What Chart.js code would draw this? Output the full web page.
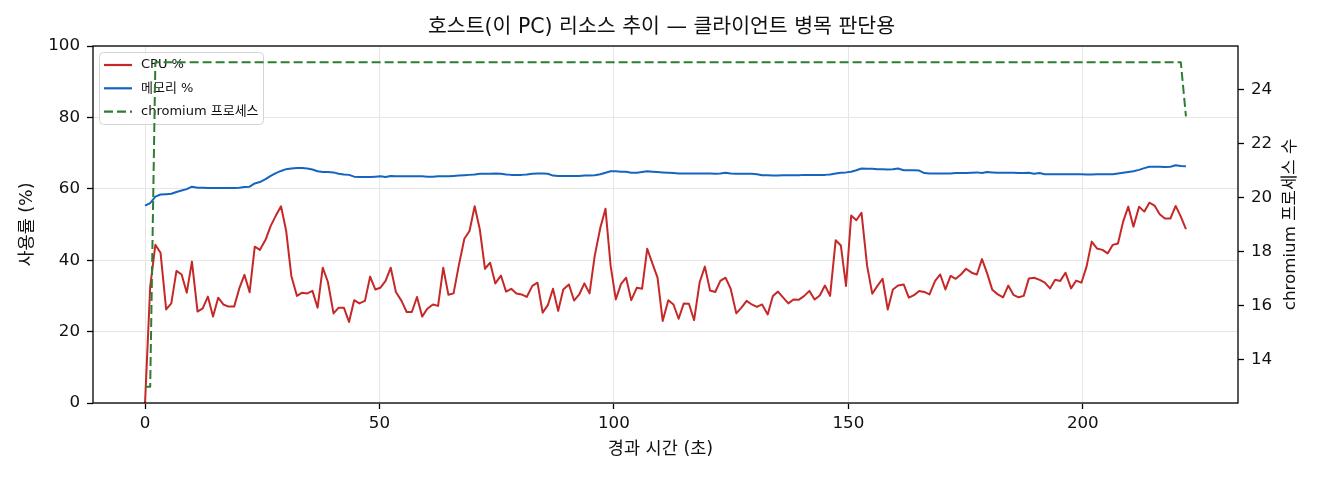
<!DOCTYPE html>
<html lang="ko">
<head>
<meta charset="utf-8">
<title>호스트 리소스 추이</title>
<script src="https://cdn.jsdelivr.net/npm/chart.js@4.4.1/dist/chart.umd.min.js"></script>
<style>
  html, body { margin: 0; padding: 0; background: #fff; }
  canvas { display: block; }
</style>
</head>
<body>
<canvas id="resourceChart" width="1320" height="480"></canvas>
<script>
// --- Data (~1.1 s sampling) ---
const elapsedSec = [
  0.0, 1.1, 2.2, 3.3, 4.5, 5.6, 6.7, 7.8, 8.9, 10.0,
  11.2, 12.3, 13.4, 14.5, 15.6, 16.7, 17.8, 19.0, 20.1, 21.2,
  22.3, 23.4, 24.5, 25.7, 26.8, 27.9, 29.0, 30.1, 31.2, 32.4,
  33.5, 34.6, 35.7, 36.8, 37.9, 39.0, 40.2, 41.3, 42.4, 43.5,
  44.6, 45.7, 46.9, 48.0, 49.1, 50.2, 51.3, 52.4, 53.5, 54.7,
  55.8, 56.9, 58.0, 59.1, 60.2, 61.4, 62.5, 63.6, 64.7, 65.8,
  66.9, 68.1, 69.2, 70.3, 71.4, 72.5, 73.6, 74.7, 75.9, 77.0,
  78.1, 79.2, 80.3, 81.4, 82.6, 83.7, 84.8, 85.9, 87.0, 88.1,
  89.2, 90.4, 91.5, 92.6, 93.7, 94.8, 95.9, 97.1, 98.2, 99.3,
  100.4, 101.5, 102.6, 103.7, 104.9, 106.0, 107.1, 108.2, 109.3, 110.4,
  111.6, 112.7, 113.8, 114.9, 116.0, 117.1, 118.3, 119.4, 120.5, 121.6,
  122.7, 123.8, 124.9, 126.1, 127.2, 128.3, 129.4, 130.5, 131.6, 132.8,
  133.9, 135.0, 136.1, 137.2, 138.3, 139.4, 140.6, 141.7, 142.8, 143.9,
  145.0, 146.1, 147.3, 148.4, 149.5, 150.6, 151.7, 152.8, 154.0, 155.1,
  156.2, 157.3, 158.4, 159.5, 160.6, 161.8, 162.9, 164.0, 165.1, 166.2,
  167.3, 168.5, 169.6, 170.7, 171.8, 172.9, 174.0, 175.1, 176.3, 177.4,
  178.5, 179.6, 180.7, 181.8, 183.0, 184.1, 185.2, 186.3, 187.4, 188.5,
  189.6, 190.8, 191.9, 193.0, 194.1, 195.2, 196.3, 197.5, 198.6, 199.7,
  200.8, 201.9, 203.0, 204.2, 205.3, 206.4, 207.5, 208.6, 209.7, 210.8,
  212.0, 213.1, 214.2, 215.3, 216.4, 217.5, 218.7, 219.8, 220.9, 222.0
];

const cpuPct = [
  0, 32.6, 44.3, 42.1, 26.2, 27.9, 37.0, 36.0, 30.9, 39.6,
  25.6, 26.5, 29.8, 24.2, 29.5, 27.6, 27.0, 27.0, 32.1, 35.9,
  31.0, 43.8, 42.9, 45.7, 49.6, 52.5, 55.1, 48.2, 35.6, 30.0,
  30.9, 30.7, 31.4, 26.7, 37.9, 33.9, 25.1, 26.7, 26.7, 22.7,
  28.8, 27.9, 28.6, 35.4, 31.8, 32.3, 34.2, 37.9, 31.1, 28.6,
  25.5, 25.5, 29.7, 24.2, 26.4, 27.6, 27.2, 37.9, 30.3, 30.7,
  38.4, 46.0, 48.2, 55.1, 48.6, 37.6, 39.3, 33.5, 35.7, 31.2,
  32.0, 30.7, 30.4, 29.7, 32.8, 33.7, 25.3, 27.4, 32.0, 25.8,
  31.8, 33.2, 28.7, 30.4, 33.5, 30.7, 41.2, 49.1, 54.4, 38.4,
  29.0, 33.3, 35.1, 28.8, 32.3, 32.0, 43.2, 39.1, 35.1, 23.0,
  28.8, 27.6, 23.6, 27.9, 27.8, 23.2, 33.9, 38.2, 31.5, 31.1,
  34.2, 35.1, 32.0, 25.1, 26.7, 28.6, 27.6, 26.9, 27.6, 24.8,
  30.0, 31.2, 29.5, 27.9, 29.0, 28.9, 30.0, 31.4, 29.0, 30.1,
  32.9, 30.0, 45.6, 44.1, 32.8, 52.5, 51.2, 53.3, 38.4, 30.6,
  32.8, 34.8, 26.2, 31.8, 32.9, 33.2, 29.5, 30.2, 31.4, 31.1,
  30.4, 34.2, 36.0, 31.8, 35.6, 34.8, 36.0, 37.6, 36.5, 36.0,
  40.3, 36.3, 31.7, 30.5, 29.6, 32.9, 30.3, 29.6, 30.0, 34.9,
  35.1, 34.5, 33.7, 32.1, 34.5, 34.2, 36.5, 32.1, 34.3, 33.7,
  38.2, 45.2, 43.3, 42.9, 41.9, 44.3, 44.7, 50.8, 55.0, 49.4,
  55.0, 53.6, 56.1, 55.3, 52.9, 51.7, 51.7, 55.2, 52.2, 48.7
];

const memPct = [
  55.3, 56.0, 57.8, 58.4, 58.5, 58.6, 59.1, 59.5, 59.9, 60.6,
  60.3, 60.3, 60.2, 60.2, 60.2, 60.2, 60.2, 60.2, 60.3, 60.5,
  60.6, 61.5, 61.9, 62.7, 63.6, 64.4, 65.0, 65.5, 65.7, 65.8,
  65.8, 65.7, 65.4, 64.9, 64.7, 64.7, 64.6, 64.2, 64.0, 63.9,
  63.4, 63.3, 63.3, 63.3, 63.4, 63.5, 63.3, 63.6, 63.5, 63.5,
  63.5, 63.5, 63.5, 63.5, 63.4, 63.4, 63.5, 63.5, 63.5, 63.6,
  63.7, 63.8, 63.9, 64.0, 64.2, 64.2, 64.2, 64.3, 64.2, 64.0,
  63.9, 63.9, 63.9, 64.0, 64.2, 64.3, 64.3, 64.2, 63.7, 63.6,
  63.6, 63.6, 63.6, 63.6, 63.7, 63.7, 63.8, 64.1, 64.5, 64.9,
  64.9, 64.8, 64.8, 64.5, 64.5, 64.7, 64.9, 64.8, 64.7, 64.6,
  64.5, 64.4, 64.3, 64.3, 64.3, 64.3, 64.3, 64.3, 64.3, 64.2,
  64.3, 64.5, 64.3, 64.2, 64.2, 64.2, 64.2, 64.1, 63.8, 63.8,
  63.7, 63.7, 63.8, 63.8, 63.8, 63.8, 63.9, 63.9, 63.9, 63.9,
  63.9, 64.0, 64.3, 64.5, 64.6, 64.8, 65.2, 65.7, 65.6, 65.6,
  65.5, 65.5, 65.4, 65.5, 65.7, 65.2, 65.2, 65.2, 65.1, 64.4,
  64.3, 64.3, 64.3, 64.3, 64.3, 64.4, 64.4, 64.4, 64.5, 64.6,
  64.4, 64.7, 64.6, 64.5, 64.5, 64.5, 64.5, 64.4, 64.4, 64.5,
  64.2, 64.4, 64.1, 64.1, 64.1, 64.1, 64.1, 64.1, 64.1, 64.1,
  64.0, 64.0, 64.1, 64.1, 64.1, 64.1, 64.3, 64.5, 64.7, 64.9,
  65.3, 65.8, 66.2, 66.2, 66.2, 66.1, 66.2, 66.6, 66.4, 66.3
];

const chromiumProcs = [
  13, 13, 25, 25, 25, 25, 25, 25, 25, 25,
  25, 25, 25, 25, 25, 25, 25, 25, 25, 25,
  25, 25, 25, 25, 25, 25, 25, 25, 25, 25,
  25, 25, 25, 25, 25, 25, 25, 25, 25, 25,
  25, 25, 25, 25, 25, 25, 25, 25, 25, 25,
  25, 25, 25, 25, 25, 25, 25, 25, 25, 25,
  25, 25, 25, 25, 25, 25, 25, 25, 25, 25,
  25, 25, 25, 25, 25, 25, 25, 25, 25, 25,
  25, 25, 25, 25, 25, 25, 25, 25, 25, 25,
  25, 25, 25, 25, 25, 25, 25, 25, 25, 25,
  25, 25, 25, 25, 25, 25, 25, 25, 25, 25,
  25, 25, 25, 25, 25, 25, 25, 25, 25, 25,
  25, 25, 25, 25, 25, 25, 25, 25, 25, 25,
  25, 25, 25, 25, 25, 25, 25, 25, 25, 25,
  25, 25, 25, 25, 25, 25, 25, 25, 25, 25,
  25, 25, 25, 25, 25, 25, 25, 25, 25, 25,
  25, 25, 25, 25, 25, 25, 25, 25, 25, 25,
  25, 25, 25, 25, 25, 25, 25, 25, 25, 25,
  25, 25, 25, 25, 25, 25, 25, 25, 25, 25,
  25, 25, 25, 25, 25, 25, 25, 25, 25, 23
];

const xTicks = [0, 50, 100, 150, 200];
const pctTicks = [0, 20, 40, 60, 80, 100];
const procTicks = [14, 16, 18, 20, 22, 24];

const FONT = "'DejaVu Sans', 'Noto Sans CJK KR', sans-serif";
const TEXT = "#111";
const toPoints = arr => arr.map((v, i) => ({ x: elapsedSec[i], y: v }));

// --- Legend, frame and titles, drawn the way matplotlib lays them out ---
const legendItems = [
  { label: "CPU %", color: "#c62828", dash: [] },
  { label: "메모리 %", color: "#1565c0", dash: [] },
  { label: "chromium 프로세스", color: "#2e7d32", dash: [9, 4] },
];

function roundRect(ctx, x, y, w, h, r) {
  ctx.beginPath();
  ctx.moveTo(x + r, y);
  ctx.arcTo(x + w, y, x + w, y + h, r);
  ctx.arcTo(x + w, y + h, x, y + h, r);
  ctx.arcTo(x, y + h, x, y, r);
  ctx.arcTo(x, y, x + w, y, r);
  ctx.closePath();
}

const decor = {
  id: "decor",
  afterDatasetDraw(chart, args) {
    // legend belongs to the left axis: above CPU/memory, under the twin-axis line
    if (args.index !== 1) return;
    const ctx = chart.ctx;
    ctx.save();
    roundRect(ctx, 99.5, 52.5, 164, 72, 4);
    ctx.fillStyle = "rgba(255,255,255,0.8)";
    ctx.fill();
    ctx.strokeStyle = "#d4d4d4";
    ctx.lineWidth = 1;
    ctx.stroke();
    ctx.font = "13px " + FONT;
    ctx.textBaseline = "middle";
    legendItems.forEach((item, i) => {
      const y = 65 + i * 23.3;
      ctx.beginPath();
      ctx.setLineDash(item.dash);
      ctx.strokeStyle = item.color;
      ctx.lineWidth = 2.2;
      ctx.moveTo(104, y);
      ctx.lineTo(132, y);
      ctx.stroke();
      ctx.setLineDash([]);
      ctx.fillStyle = TEXT;
      ctx.fillText(item.label, 141, y);
    });
    ctx.restore();
  },
  afterDraw(chart) {
    const { ctx, chartArea: a } = chart;
    const midX = (a.left + a.right) / 2;
    const midY = (a.top + a.bottom) / 2;
    ctx.save();
    ctx.strokeStyle = "#000";
    ctx.lineWidth = 1.3;
    ctx.strokeRect(a.left, a.top, a.right - a.left, a.bottom - a.top);

    ctx.fillStyle = TEXT;
    ctx.textAlign = "center";
    ctx.textBaseline = "middle";
    ctx.font = "20.5px " + FONT;
    ctx.fillText("호스트(이 PC) 리소스 추이 — 클라이언트 병목 판단용", midX - 4, 28);

    ctx.font = "17.5px " + FONT;
    ctx.fillText("경과 시간 (초)", midX - 5, 449);

    ctx.save();
    ctx.translate(27, midY);
    ctx.rotate(-Math.PI / 2);
    ctx.fillText("사용률 (%)", 0, 0);
    ctx.restore();

    ctx.save();
    ctx.translate(1291, midY);
    ctx.rotate(-Math.PI / 2);
    ctx.font = "16.7px " + FONT;
    ctx.fillText("chromium 프로세스 수", 0, 0);
    ctx.restore();

    ctx.restore();
  }
};

const tickFont = { family: FONT, size: 16.7 };
const gridStyle = { color: "#e6e6e6", lineWidth: 1, tickColor: "#000", tickLength: 6, tickWidth: 1.3 };

new Chart(document.getElementById("resourceChart"), {
  type: "line",
  data: {
    datasets: [
      { label: "CPU %", data: toPoints(cpuPct), borderColor: "#c62828", borderWidth: 2, yAxisID: "y", order: 3 },
      { label: "메모리 %", data: toPoints(memPct), borderColor: "#1565c0", borderWidth: 2, yAxisID: "y", order: 2 },
      { label: "chromium 프로세스", data: toPoints(chromiumProcs), borderColor: "#2e7d32", borderWidth: 2,
        borderDash: [9, 4], yAxisID: "y2", order: 1 }
    ]
  },
  options: {
    responsive: false,
    animation: false,
    devicePixelRatio: 1,
    layout: { padding: { top: 46, left: 0, right: 0, bottom: 0 } },
    elements: {
      point: { radius: 0 },
      line: { tension: 0, fill: false, borderJoinStyle: "round" }
    },
    plugins: { legend: { display: false }, tooltip: { enabled: false } },
    scales: {
      x: {
        type: "linear",
        position: "bottom",
        min: -11.1,
        max: 233.1,
        afterBuildTicks: s => { s.ticks = xTicks.map(v => ({ value: v })); },
        afterFit: s => { s.height = 77; },
        grid: gridStyle,
        border: { display: false },
        ticks: { font: tickFont, color: TEXT, padding: 5, maxRotation: 0, autoSkip: false }
      },
      y: {
        type: "linear",
        position: "left",
        min: 0,
        max: 100,
        afterBuildTicks: s => { s.ticks = pctTicks.map(v => ({ value: v })); },
        afterFit: s => { s.width = 93; },
        grid: gridStyle,
        border: { display: false },
        ticks: { font: tickFont, color: TEXT, padding: 7 }
      },
      y2: {
        type: "linear",
        position: "right",
        min: 12.4,
        max: 25.6,
        afterBuildTicks: s => { s.ticks = procTicks.map(v => ({ value: v })); },
        afterFit: s => { s.width = 82; },
        grid: { ...gridStyle, drawOnChartArea: false },
        border: { display: false },
        ticks: { font: tickFont, color: TEXT, padding: 7 }
      }
    }
  },
  plugins: [decor]
});
</script>
</body>
</html>
